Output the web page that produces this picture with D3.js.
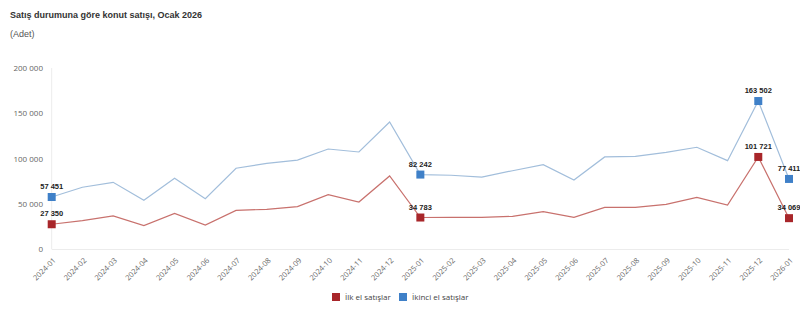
<!DOCTYPE html>
<html><head><meta charset="utf-8">
<script src="https://cdn.jsdelivr.net/npm/d3@7"></script>
<style>
html,body{margin:0;padding:0;background:#fff;}
svg{display:block;}
</style></head>
<body>
<svg id="c" width="800" height="329"></svg>
<script>
const months = ["2024-01","2024-02","2024-03","2024-04","2024-05","2024-06","2024-07","2024-08","2024-09","2024-10","2024-11","2024-12",
"2025-01","2025-02","2025-03","2025-04","2025-05","2025-06","2025-07","2025-08","2025-09","2025-10","2025-11","2025-12","2026-01"];
const ilkEl = [27350,31300,36500,25800,39400,26500,42700,43800,46800,60000,51900,80700,
34783,34900,35000,36100,41200,35000,46000,46100,49400,57100,48600,101721,34069];
const ikinciEl = [57451,68200,73700,53800,78100,55600,89200,94700,98300,110500,107200,140300,
82242,81500,79500,86500,93200,76200,101700,102400,106800,112400,97600,163502,77411];
const yTicks = [0,50000,100000,150000,200000];
const markedIdx = [0,12,23,24];
const seriesNames = ["İlk el satışlar","İkinci el satışlar"];

const svg = d3.select("#c");
const font = "'Liberation Sans', Arial, sans-serif";
const tickFont = "'Open Sans', Lato, sans-serif";

const x = d3.scalePoint().domain(months).range([51.7, 789]);
const y = d3.scaleLinear().domain([0,200000]).range([249, 68]);
const fmt = v => d3.format(",")(v).replace(/,/g," ");

svg.append("text").attr("x",10).attr("y",18).attr("font-family",font).attr("font-weight","bold")
  .attr("font-size",9).attr("fill","#333").text("Satış durumuna göre konut satışı, Ocak 2026");
svg.append("text").attr("x",10).attr("y",37).attr("font-family",font)
  .attr("font-size",9).attr("fill","#555").text("(Adet)");

// y axis labels
const ya = svg.append("g").attr("transform","translate(43,0)")
  .call(d3.axisLeft(y).tickValues(yTicks).tickSize(0).tickPadding(0).tickFormat(fmt));
ya.select(".domain").remove();
ya.selectAll("text").attr("font-family",tickFont).attr("font-size",8).attr("fill","#666");

// y axis line
svg.append("line").attr("x1",51.7).attr("x2",51.7).attr("y1",68).attr("y2",249).attr("stroke","#ececec");
// x axis
const xa = svg.append("g").attr("transform","translate(0,249)")
  .call(d3.axisBottom(x).tickSize(0).tickPadding(0));
xa.select(".domain").attr("stroke","#ececec").attr("d","M51.7,0.5H789");
xa.selectAll("text").attr("font-family",tickFont).attr("font-size",7.5).attr("fill","#666")
  .attr("text-anchor","end").attr("dy",0)
  .attr("transform","translate(4,12) rotate(-45)");

const line = d3.line().x((d,i)=>x(months[i])).y(d=>y(d));
const series = [
  {vals: ilkEl, line:"#c8716d", mark:"#a8262a"},
  {vals: ikinciEl, line:"#a2bedb", mark:"#3f80c8"}
];
series.forEach(s=>{
  svg.append("path").datum(s.vals).attr("d",line).attr("fill","none")
    .attr("stroke",s.line).attr("stroke-width",1.2);
});
series.forEach(s=>{
  const g = svg.append("g");
  markedIdx.forEach(i=>{
    const cx = x(months[i]), cy = y(s.vals[i]);
    g.append("rect").attr("x",cx-4).attr("y",cy-4).attr("width",8).attr("height",8).attr("fill",s.mark);
    g.append("text").attr("x",cx).attr("y",cy-8).attr("text-anchor","middle")
      .attr("font-family",font).attr("font-weight","bold").attr("font-size",7.5).attr("fill","#222")
      .text(fmt(s.vals[i]));
  });
});

// legend
const lg = svg.append("g");
const legendItems = [{name:seriesNames[0], c:"#a8262a", x:332},{name:seriesNames[1], c:"#3f80c8", x:399}];
legendItems.forEach(it=>{
  lg.append("rect").attr("x",it.x).attr("y",293).attr("width",8).attr("height",8).attr("fill",it.c);
  lg.append("text").attr("x",it.x+13).attr("y",300).attr("font-family",tickFont).attr("font-size",8)
    .attr("fill","#444").text(it.name);
});
</script>
</body></html>
